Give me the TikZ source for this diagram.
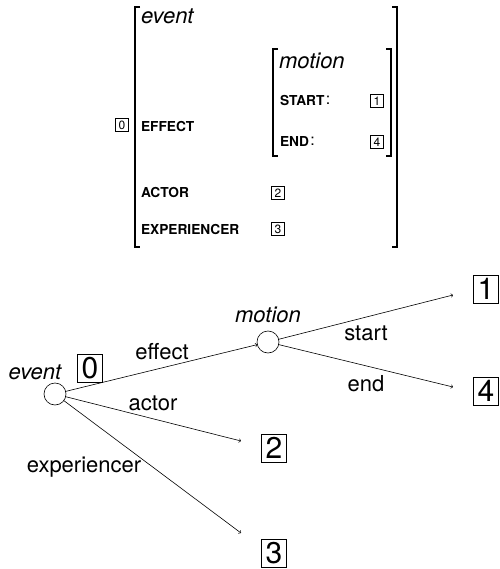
\documentclass[tikz,border=0pt]{standalone}
\usepackage{fontspec}
\setmainfont{TeX Gyre Heros}
\newcommand{\featcolon}{\hspace{1.5pt}\raisebox{1.5pt}{\fontsize{16}{18}\selectfont\mdseries:}}
\begin{document}
\begin{tikzpicture}[x=1pt,y=-1pt,
  every node/.style={inner sep=0pt,outer sep=0pt},
  big/.style={font=\fontsize{22}{26}\selectfont},
  bigit/.style={font=\fontsize{22}{26}\selectfont\itshape},
  feat/.style={font=\fontsize{13.7}{15}\selectfont\bfseries,anchor=west},
  tagsmall/.style={draw,line width=0.5pt,minimum width=13pt,minimum height=13pt,font=\fontsize{12}{14}\selectfont},
  tagbig/.style={draw,line width=0.6pt,minimum width=25pt,minimum height=28pt,font=\fontsize{30}{32}\selectfont},
  vertex/.style={circle,draw,line width=0.6pt,minimum size=22pt},
  brk/.style={line width=1.5pt},
  arc/.style={->,line width=0.6pt}]
\useasboundingbox (0,0) rectangle (499,569);

% ---- attribute-value matrix ----
% outer brackets
\draw[brk] (140,7) -- (135,7) -- (135,247) -- (140,247);
\draw[brk] (392,7) -- (397,7) -- (397,247) -- (392,247);
% inner brackets
\draw[brk] (278,49) -- (273,49) -- (273,156) -- (278,156);
\draw[brk] (386,49) -- (391,49) -- (391,156) -- (386,156);

\node[tagsmall] (t0) at (122,125) {0};
\node[bigit,anchor=west] (ev) at (141,16) {event};
\node[feat] (feff) at (141,127) {EFFECT};
\node[feat] (fact) at (141,193) {ACTOR};
\node[feat] (fexp) at (141,230) {EXPERIENCER};
\node[tagsmall] (t2) at (278,193) {2};
\node[tagsmall] (t3) at (278,229) {3};
\node[bigit,anchor=west] (mo) at (279,61) {motion};
\node[feat] (fst) at (280,101) {START\featcolon};
\node[feat] (fen) at (280,142) {END\featcolon};
\node[tagsmall] (t1) at (377,101) {1};
\node[tagsmall] (t4) at (377,142) {4};

% ---- graph ----
\node[vertex] (e) at (55,394) {};
\node[vertex] (m) at (268,342) {};
\node[bigit] (elab) at (35,372) {event};
\node[bigit] (mlab) at (268,315) {motion};
\node[tagbig] (b0) at (90,368) {0};
\node[tagbig] (b1) at (486,289) {1};
\node[tagbig] (b4) at (486,391) {4};
\node[tagbig] (b2) at (274,448) {2};
\node[tagbig] (b3) at (274,553) {3};

\coordinate (p1) at (453,295);
\coordinate (p4) at (453,387);
\coordinate (p2) at (241,441);
\coordinate (p3) at (241,533);

\draw[arc] (e) -- (m);
\draw[arc] (e) -- (p2);
\draw[arc] (e) -- (p3);
\draw[arc] (m) -- (p1);
\draw[arc] (m) -- (p4);

\node[big] (leff) at (162,352) {effect};
\node[big] (lact) at (153,403) {actor};
\node[big] (lexp) at (84,467) {experiencer};
\node[big] (lst) at (366,333) {start};
\node[big] (len) at (366,384) {end};
\end{tikzpicture}
\end{document}
